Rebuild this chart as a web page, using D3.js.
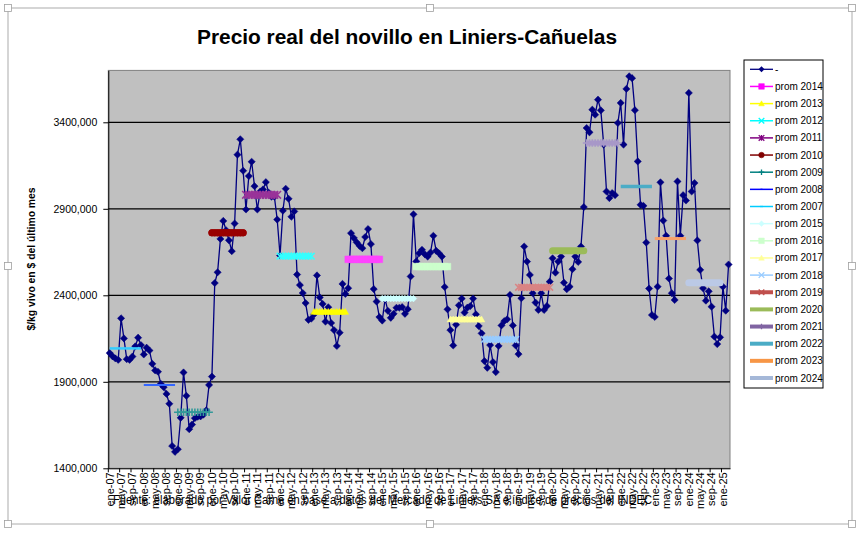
<!DOCTYPE html>
<html><head><meta charset="utf-8">
<script src="https://cdn.jsdelivr.net/npm/d3@7"></script>
<style>
body{margin:0;background:#fff}
svg{display:block}
text{font-family:Arial,"Liberation Sans",sans-serif;fill:#000}
</style>
</head><body>
<svg id="c" width="861" height="533"></svg>
<script>
// ---------------- DATA ----------------
const startYear = 2007;
const monthAbbr = ["ene","feb","mar","abr","may","jun","jul","ago","sep","oct","nov","dic"];
const months = d3.range(219).map(i => monthAbbr[i % 12] + "-" + String((startYear + Math.floor(i / 12)) % 100).padStart(2, "0"));

// precio real del novillo, miles de $/kg (ene-07 ... mar-25)
const precioMiles = [
  2066,2047,2035,2027,2267,2151,2031,2027,2046,2105,2155,2112,
  2058,2097,2081,2004,1966,1958,1888,1869,1830,1773,1529,1495,
  1510,1692,1954,1819,1626,1653,1690,1698,1700,1710,1735,1882,
  1930,2471,2533,2726,2830,2776,2718,2655,2815,3213,3302,3120,
  2896,3089,3172,3031,2896,3000,3012,3054,2993,2970,2970,2838,
  2630,2889,3016,2958,2854,2885,2520,2459,2413,2355,2258,2265,
  2290,2515,2388,2350,2248,2331,2240,2199,2107,2184,2466,2408,
  2441,2759,2731,2706,2686,2672,2737,2783,2696,2436,2364,2274,
  2254,2378,2310,2270,2293,2328,2328,2332,2293,2320,2509,2868,
  2596,2643,2663,2637,2624,2647,2744,2657,2643,2624,2448,2319,
  2199,2110,2230,2342,2381,2300,2329,2338,2381,2290,2222,2180,
  2020,1981,2112,2014,1956,2107,2226,2251,2261,2402,2226,2110,
  2060,2383,2682,2595,2518,2412,2358,2315,2412,2315,2338,2479,
  2614,2531,2595,2624,2473,2435,2450,2551,2624,2593,2682,2910,
  3367,3342,3473,3444,3531,3469,3271,3000,2962,2991,2979,3396,
  3512,3271,3593,3666,3655,3470,3174,2923,2917,2705,2439,2286,
  2275,2450,3053,2832,2744,2497,2412,2373,3058,2744,2979,2948,
  3570,3000,3049,2717,2547,2441,2369,2423,2334,2161,2118,2157,
  2450,2311,2578
];
const precio = precioMiles.map(v => v * 1000);

// promedios anuales (legend order)
const avgYears  = [2014,2013,2012,2011,2010,2009,2008,2007,2015,2016,2017,2018,2019,2020,2021,2022,2023,2024];
const avgValues = [2608000,2305000,2626000,2981000,2761000,1724000,1881000,2093000,2381000,2566000,2261000,2145000,2446000,2657000,3280000,3029000,2728000,2473000];

const yTicks = [1400000,1900000,2400000,2900000,3400000];
const titleText = "Precio real del novillo en Liniers-Cañuelas";
const yTitle = "$/kg vivo en $ del último mes";
const sourceText = "Fuente: elaborado por Valor Carne en base a datos del Mercado de Liniers SA e índice de precios del INDEC";
const mainLabel = "-";

// ---------------- STYLES ----------------
const avgStyle = {
  2007:{c:"#33CCFF", lc:"#00CCFF", w:2.5, m:"dash"},
  2008:{c:"#3366FF", lc:"#0000FF", w:2, m:"dot"},
  2009:{c:"#339999", lc:"#008080", w:1.5, m:"plus"},
  2010:{c:"#990000", lc:"#800000", w:7, m:"circle", cap:"round"},
  2011:{c:"#993399", lc:"#800080", w:3, m:"star"},
  2012:{c:"#33FFFF", lc:"#00FFFF", w:3, m:"x"},
  2013:{c:"#FFFF00", lc:"#FFFF00", w:4, m:"triangle"},
  2014:{c:"#FF44FF", lc:"#FF00FF", w:6, m:"square"},
  2015:{c:"#CCFFFF", lc:"#CCFFFF", w:5, m:"diamond"},
  2016:{c:"#CCFFCC", lc:"#CCFFCC", w:6, m:"square"},
  2017:{c:"#FFFF99", lc:"#FFFF99", w:5, m:"triangle"},
  2018:{c:"#99CCFF", lc:"#99CCFF", w:5, m:"x"},
  2019:{c:"#D98484", lc:"#C0504D", w:6, m:"x", lw:4},
  2020:{c:"#9BBB59", lc:"#9BBB59", w:7, m:"none", cap:"round", lw:4},
  2021:{c:"#A898C8", lc:"#8064A2", w:5, m:"plus", lw:4},
  2022:{c:"#4BACC6", lc:"#4BACC6", w:3.5, m:"none", lw:4},
  2023:{c:"#F8A06A", lc:"#F79646", w:3, m:"none", lw:4},
  2024:{c:"#BBC9E6", lc:"#A5B8D8", w:7, m:"none", cap:"round", lw:4}
};

// ---------------- LAYOUT ----------------
const svg = d3.select("#c");
const plot = {l:108.3, r:730, t:70.4, b:468.3};

const x = d3.scaleBand().domain(months).range([plot.l, plot.r]).paddingInner(0).paddingOuter(0);
const bw = x.bandwidth();
const cx = m => x(m) + bw / 2;
const y = d3.scaleLinear().domain([1400000, 3700000]).range([plot.b, plot.t]);

// outer frame
svg.append("rect").attr("x",8).attr("y",8).attr("width",844).attr("height",516)
  .attr("fill","none").attr("stroke","#C8C8C8").attr("stroke-width",1.5);
[[8,8],[430,8],[852,8],[8,266],[852,266],[8,524],[430,524],[852,524]].forEach(([hx,hy])=>{
  svg.append("rect").attr("x",hx-3.5).attr("y",hy-3.5).attr("width",7).attr("height",7)
    .attr("fill","#fff").attr("stroke","#A0A0A0").attr("stroke-width",0.8);
});

// plot background
svg.append("rect").attr("x",plot.l).attr("y",plot.t).attr("width",plot.r-plot.l).attr("height",plot.b-plot.t)
  .attr("fill","#C0C0C0").attr("stroke","#808080").attr("stroke-width",1);

// gridlines
svg.append("g").selectAll("line").data(yTicks.slice(1)).join("line")
  .attr("x1",plot.l).attr("x2",plot.r).attr("y1",d=>y(d)).attr("y2",d=>y(d))
  .attr("stroke","#000").attr("stroke-width",1.2);

// y axis
const yAxis = svg.append("g").attr("transform",`translate(${plot.l},0)`)
  .call(d3.axisLeft(y).tickValues(yTicks).tickFormat(v => Math.round(v/1000) + ",000").tickSize(5).tickPadding(6).tickSizeOuter(0));
yAxis.select(".domain").attr("stroke","#000");
yAxis.selectAll("text").attr("font-size","10.5px").attr("font-family","Arial,'Liberation Sans',sans-serif");

// x axis
const labelled = months.filter((d,i) => i % 4 === 0);
const xAxis = svg.append("g").attr("transform",`translate(0,${plot.b})`)
  .call(d3.axisBottom(x).tickValues(labelled).tickSize(4).tickSizeOuter(0));
xAxis.select(".domain").attr("stroke","#000");
xAxis.selectAll(".tick line").attr("x1",-bw/2).attr("x2",-bw/2);
xAxis.selectAll("text").attr("font-size","11px").attr("font-family","Arial,'Liberation Sans',sans-serif")
  .attr("transform","rotate(-90)").attr("text-anchor","end").attr("x",-4).attr("y",0).attr("dy","0.35em");

// marker generator
function markerPath(t, s){
  switch(t){
    case "diamond": return `M0,${-s}L${s},0L0,${s}L${-s},0Z`;
    case "square": return `M${-s},${-s}H${s}V${s}H${-s}Z`;
    case "triangle": return `M0,${-s}L${s},${s*0.8}L${-s},${s*0.8}Z`;
    case "x": return `M${-s},${-s}L${s},${s}M${-s},${s}L${s},${-s}`;
    case "plus": return `M${-s},0H${s}M0,${-s}V${s}`;
    case "star": return `M${-s},${-s}L${s},${s}M${-s},${s}L${s},${-s}M0,${-s}V${s}`;
    case "circle": return d3.symbol(d3.symbolCircle, Math.PI*s*s)();
    case "dash": return `M${-s},0H${s}`;
    case "dot": return `M${-1},0H${1}`;
    default: return "";
  }
}
const filled = t => ["diamond","square","triangle","circle"].includes(t);

// main series
const line = d3.line().x((d,i)=>cx(months[i])).y(d=>y(d));
svg.append("path").datum(precio).attr("d",line).attr("fill","none")
  .attr("stroke","#000080").attr("stroke-width",1.3);
svg.append("g").selectAll("path").data(precio).join("path")
  .attr("transform",(d,i)=>`translate(${cx(months[i])},${y(d)})`)
  .attr("d",markerPath("diamond",3.6)).attr("fill","#000080").attr("stroke","#000080").attr("stroke-width",0.5);

// average series
avgYears.forEach((yr,k)=>{
  const st = avgStyle[yr];
  const i0 = (yr - startYear) * 12;
  const ms = months.slice(i0, i0 + 12);
  const v = avgValues[k];
  const g = svg.append("g");
  g.append("path").attr("d", d3.line()(ms.map(m=>[cx(m), y(v)])))
    .attr("fill","none").attr("stroke",st.c).attr("stroke-width",st.w)
    .attr("stroke-linecap", st.cap || "butt");
  if (st.m !== "none" && st.m !== "dash" && st.m !== "dot") {
    const s = st.m === "plus" || st.m === "star" ? 3.8 : 3.3;
    g.selectAll("path.mk").data(ms).join("path").attr("class","mk")
      .attr("transform", m=>`translate(${cx(m)},${y(v)})`)
      .attr("d", markerPath(st.m, s))
      .attr("fill", filled(st.m) ? st.c : "none")
      .attr("stroke", st.c).attr("stroke-width", filled(st.m) ? 0.5 : 1.6);
  }
});

// title
svg.append("text").attr("x",407).attr("y",44).attr("text-anchor","middle")
  .attr("font-size","20px").attr("font-weight","bold").attr("textLength",420).attr("lengthAdjust","spacingAndGlyphs")
  .text(titleText);

// y title
svg.append("text").attr("transform","translate(35,259) rotate(-90)").attr("text-anchor","middle")
  .attr("font-size","11px").attr("font-weight","bold").attr("textLength",143).attr("lengthAdjust","spacingAndGlyphs")
  .text(yTitle);

// source
svg.append("text").attr("x",113).attr("y",504).attr("font-size","12px")
  .attr("textLength",539).attr("lengthAdjust","spacingAndGlyphs").text(sourceText);

// legend
const lg = svg.append("g");
lg.append("rect").attr("x",744).attr("y",60).attr("width",79).attr("height",328)
  .attr("fill","#fff").attr("stroke","#000").attr("stroke-width",1);
const legendItems = [{label:mainLabel, main:true}].concat(avgYears.map(yr=>({label:"prom " + yr, yr})));
legendItems.forEach((it,k)=>{
  const ly = 69.3 + k * 17.15;
  const g = lg.append("g").attr("transform",`translate(0,${ly})`);
  if (it.main) {
    g.append("line").attr("x1",750).attr("x2",773).attr("stroke","#000080").attr("stroke-width",1.3);
    g.append("path").attr("transform","translate(761.5,0)").attr("d",markerPath("diamond",3)).attr("fill","#000080");
  } else {
    const st = avgStyle[it.yr];
    g.append("line").attr("x1",750).attr("x2",773).attr("stroke",st.lc).attr("stroke-width",st.lw || 1.5);
    if (st.m !== "none") {
      const s = 2.8;
      g.append("path").attr("transform","translate(761.5,0)")
        .attr("d", st.m==="dot" ? "M-1,0H1" : markerPath(st.m, st.m==="dash" ? 1.5 : s))
        .attr("fill", filled(st.m) ? st.lc : "none").attr("stroke", st.lc)
        .attr("stroke-width", filled(st.m) ? 0.5 : 1.3);
    }
  }
  g.append("text").attr("x",775).attr("y",0).attr("dy","0.35em").attr("font-size","10px").text(it.label);
});
</script>
</body></html>
